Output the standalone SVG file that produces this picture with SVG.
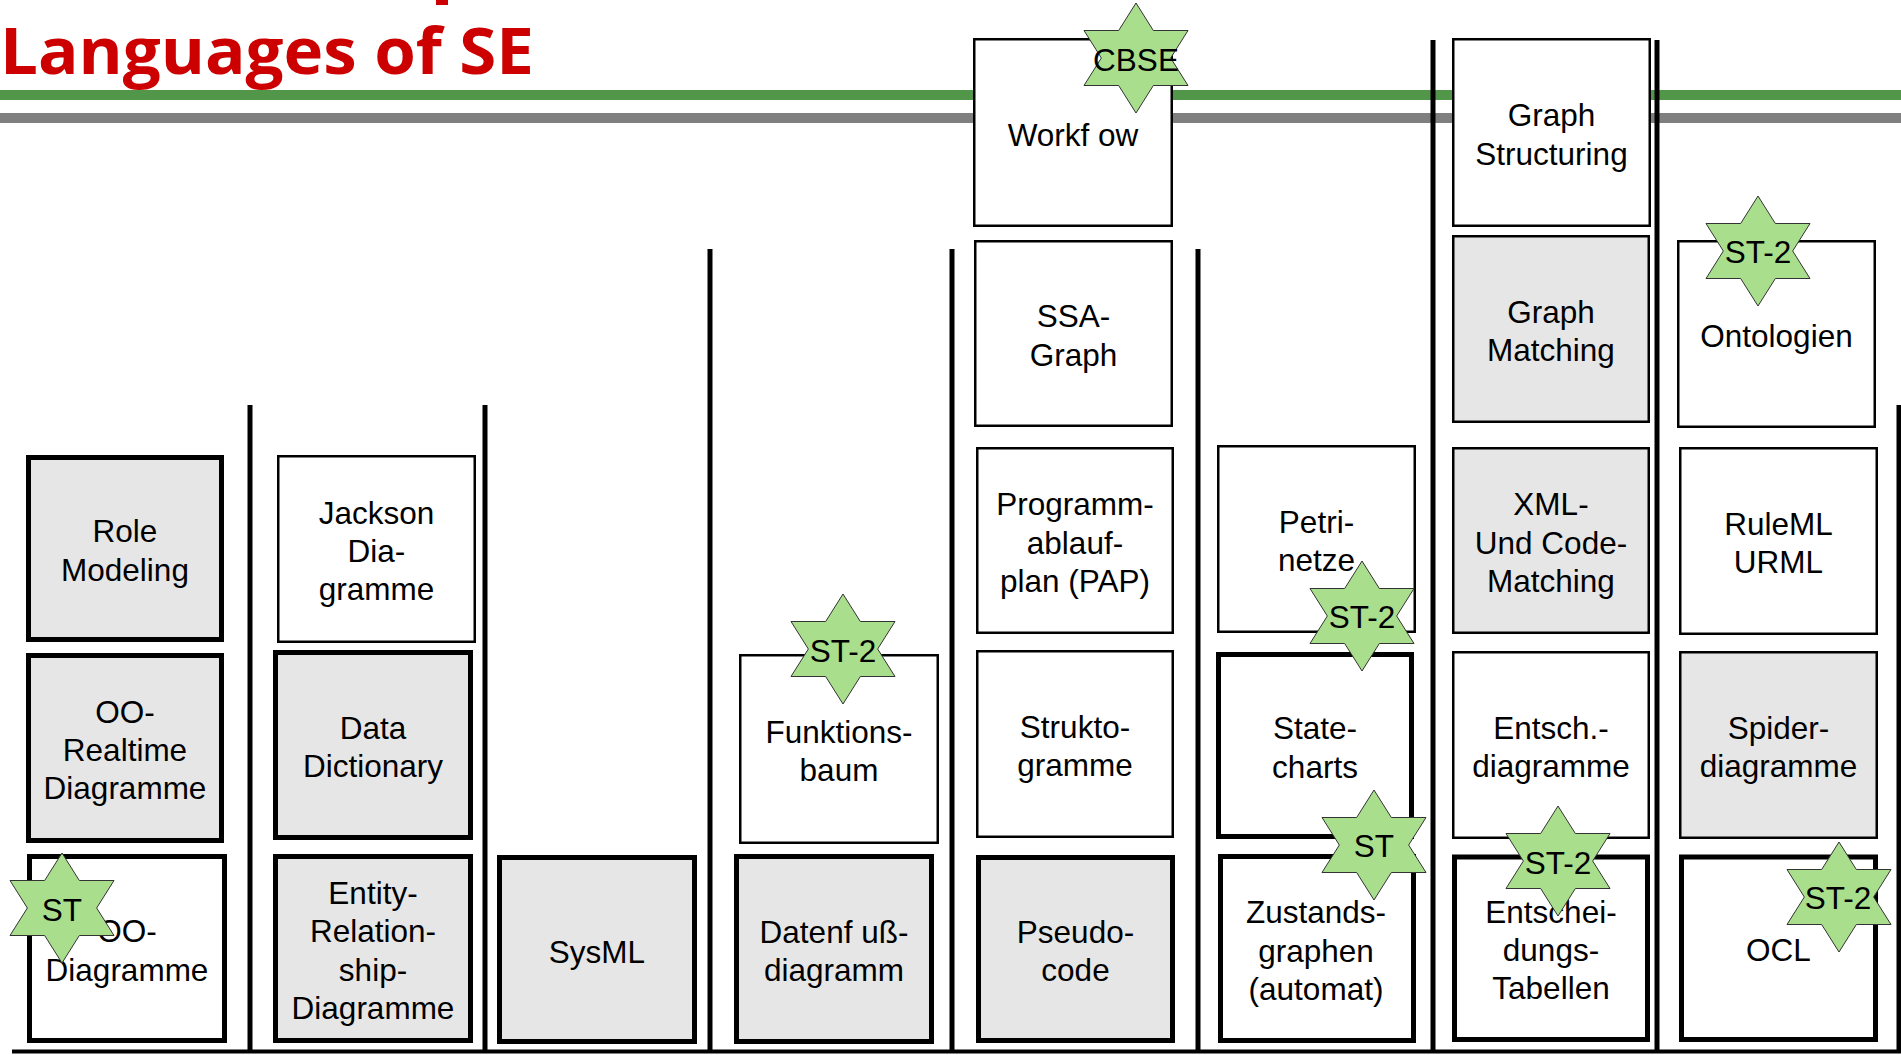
<svg xmlns="http://www.w3.org/2000/svg" xmlns:xlink="http://www.w3.org/1999/xlink" width="1901" height="1055" viewBox="0 0 1901 1055">
  <style>
    .box { stroke: #000; }
    .thick { stroke-width: 5; }
    .thin { stroke-width: 2.5; }
    .gray { fill: #e6e6e6; }
    .white { fill: #fff; }
    .lbl { font-family: "Liberation Sans", Arial, sans-serif; font-size: 31.5px; text-anchor: middle; fill: #000; }
    .star { fill: #a9df8c; stroke: #333; stroke-width: 1; }
    .sep { stroke: #000; stroke-width: 5; fill: none; }
  </style>
  <defs>
    <!-- six-pointed star, 104 x 110, centred on the origin -->
    <path id="star6" d="M-52,-27.5 L-17.33,-27.5 L0,-55 L17.33,-27.5 L52,-27.5 L34.67,0 L52,27.5 L17.33,27.5 L0,55 L-17.33,27.5 L-52,27.5 L-34.67,0 Z"/>
  </defs>

  <rect width="1901" height="1055" fill="#fff"/>

  <!-- title and header rules -->
  <g id="header">
    <rect x="436" y="0" width="12" height="5" fill="#cc0000"/>
    <text x="0" y="74" font-family="'Open Sans', 'Noto Sans', sans-serif" font-weight="bold" font-size="64" fill="#cc0000" textLength="534" lengthAdjust="spacingAndGlyphs">Languages of SE</text>
    <rect x="0" y="90" width="1901" height="10" fill="#52964a"/>
    <rect x="0" y="113" width="1901" height="10" fill="#7f7f7f"/>
  </g>

  <!-- column separators and base line -->
  <g id="connectors">
    <line class="sep" x1="250" y1="405" x2="250" y2="1053"/>
    <line class="sep" x1="485" y1="405" x2="485" y2="1053"/>
    <line class="sep" x1="710" y1="249" x2="710" y2="1053"/>
    <line class="sep" x1="952" y1="249" x2="952" y2="1053"/>
    <line class="sep" x1="1198" y1="249" x2="1198" y2="1053"/>
    <line class="sep" x1="1433" y1="40" x2="1433" y2="1053"/>
    <line class="sep" x1="1657" y1="40" x2="1657" y2="1053"/>
    <line class="sep" x1="1899" y1="405" x2="1899" y2="1053"/>
    <line x1="12" y1="1051.5" x2="1901" y2="1051.5" stroke="#000" stroke-width="4"/>
  </g>

  <!-- column 1 -->
  <g id="role-modeling">
    <rect class="box thick gray" x="28.5" y="457.5" width="193" height="182"/>
    <text class="lbl" x="125" y="542.3">Role<tspan x="125" dy="38.3">Modeling</tspan></text>
  </g>
  <g id="oo-realtime">
    <rect class="box thick gray" x="28.5" y="655.5" width="193" height="185"/>
    <text class="lbl" x="125" y="722.7">OO-<tspan x="125" dy="38.3">Realtime</tspan><tspan x="125" dy="38.3">Diagramme</tspan></text>
  </g>
  <g id="oo-diagramme">
    <rect class="box thick white" x="29.5" y="856.5" width="195" height="184"/>
    <text class="lbl" x="127" y="942.3">OO-<tspan x="127" dy="38.3">Diagramme</tspan></text>
  </g>

  <!-- column 2 -->
  <g id="jackson">
    <rect class="box thin white" x="278.25" y="456.25" width="196.5" height="185.5"/>
    <text class="lbl" x="376.5" y="523.7">Jackson<tspan x="376.5" dy="38.3">Dia-</tspan><tspan x="376.5" dy="38.3">gramme</tspan></text>
  </g>
  <g id="data-dictionary">
    <rect class="box thick gray" x="275.5" y="652.5" width="195" height="185"/>
    <text class="lbl" x="373" y="738.8">Data<tspan x="373" dy="38.3">Dictionary</tspan></text>
  </g>
  <g id="erd">
    <rect class="box thick gray" x="275.5" y="856.5" width="195" height="184"/>
    <text class="lbl" x="373" y="904">Entity-<tspan x="373" dy="38.3">Relation-</tspan><tspan x="373" dy="38.3">ship-</tspan><tspan x="373" dy="38.3">Diagramme</tspan></text>
  </g>

  <!-- column 3 -->
  <g id="sysml">
    <rect class="box thick gray" x="499.5" y="857.5" width="195" height="184"/>
    <text class="lbl" x="597" y="962.5">SysML</text>
  </g>

  <!-- column 4 -->
  <g id="funktionsbaum">
    <rect class="box thin white" x="740.25" y="655.25" width="197.5" height="187.5"/>
    <text class="lbl" x="839" y="742.8">Funktions-<tspan x="839" dy="38.3">baum</tspan></text>
  </g>
  <g id="datenfluss">
    <rect class="box thick gray" x="736.5" y="856.5" width="195" height="185"/>
    <text class="lbl" x="834" y="942.8">Datenf uß-<tspan x="834" dy="38.3">diagramm</tspan></text>
  </g>

  <!-- column 5 -->
  <g id="workflow">
    <rect class="box thin white" x="974.25" y="39.25" width="197.5" height="186.5"/>
    <text class="lbl" x="1073" y="145.5">Workf ow</text>
  </g>
  <g id="ssa-graph">
    <rect class="box thin white" x="975.25" y="241.25" width="196.5" height="184.5"/>
    <text class="lbl" x="1073.5" y="327.3">SSA-<tspan x="1073.5" dy="38.3">Graph</tspan></text>
  </g>
  <g id="pap">
    <rect class="box thin white" x="977.25" y="448.25" width="195.5" height="184.5"/>
    <text class="lbl" x="1075" y="515.2">Programm-<tspan x="1075" dy="38.3">ablauf-</tspan><tspan x="1075" dy="38.3">plan (PAP)</tspan></text>
  </g>
  <g id="struktogramme">
    <rect class="box thin white" x="977.25" y="651.25" width="195.5" height="185.5"/>
    <text class="lbl" x="1075" y="737.8">Strukto-<tspan x="1075" dy="38.3">gramme</tspan></text>
  </g>
  <g id="pseudocode">
    <rect class="box thick gray" x="978.5" y="857.5" width="194" height="183"/>
    <text class="lbl" x="1075.5" y="942.8">Pseudo-<tspan x="1075.5" dy="38.3">code</tspan></text>
  </g>

  <!-- column 6 -->
  <g id="petrinetze">
    <rect class="box thin white" x="1218.25" y="446.25" width="196.5" height="185.5"/>
    <text class="lbl" x="1316.5" y="532.8">Petri-<tspan x="1316.5" dy="38.3">netze</tspan></text>
  </g>
  <g id="statecharts">
    <rect class="box thick white" x="1218.5" y="654.5" width="193" height="182"/>
    <text class="lbl" x="1315" y="739.3">State-<tspan x="1315" dy="38.3">charts</tspan></text>
  </g>
  <g id="zustandsgraphen">
    <rect class="box thick white" x="1220.5" y="856.5" width="193" height="184"/>
    <text class="lbl" x="1316" y="923.2">Zustands-<tspan x="1316" dy="38.3">graphen</tspan><tspan x="1316" dy="38.3">(automat)</tspan></text>
  </g>

  <!-- column 7 -->
  <g id="graph-structuring">
    <rect class="box thin white" x="1453.25" y="39.25" width="196.5" height="186.5"/>
    <text class="lbl" x="1551.5" y="126.3">Graph<tspan x="1551.5" dy="38.3">Structuring</tspan></text>
  </g>
  <g id="graph-matching">
    <rect class="box thin gray" x="1453.25" y="236.25" width="195.5" height="185.5"/>
    <text class="lbl" x="1551" y="322.8">Graph<tspan x="1551" dy="38.3">Matching</tspan></text>
  </g>
  <g id="xml-code-matching">
    <rect class="box thin gray" x="1453.25" y="448.25" width="195.5" height="184.5"/>
    <text class="lbl" x="1551" y="515.2">XML-<tspan x="1551" dy="38.3">Und Code-</tspan><tspan x="1551" dy="38.3">Matching</tspan></text>
  </g>
  <g id="entsch-diagramme">
    <rect class="box thin white" x="1453.25" y="652.25" width="195.5" height="185.5"/>
    <text class="lbl" x="1551" y="738.8">Entsch.-<tspan x="1551" dy="38.3">diagramme</tspan></text>
  </g>
  <g id="entscheidungstabellen">
    <rect class="box thick white" x="1454.5" y="857" width="193" height="182.5"/>
    <text class="lbl" x="1551" y="922.7">Entschei-<tspan x="1551" dy="38.3">dungs-</tspan><tspan x="1551" dy="38.3">Tabellen</tspan></text>
  </g>

  <!-- column 8 -->
  <g id="ontologien">
    <rect class="box thin white" x="1678.25" y="241.25" width="196.5" height="185.5"/>
    <text class="lbl" x="1776.5" y="347">Ontologien</text>
  </g>
  <g id="ruleml">
    <rect class="box thin white" x="1680.25" y="448.25" width="196.5" height="185.5"/>
    <text class="lbl" x="1778.5" y="534.8">RuleML<tspan x="1778.5" dy="38.3">URML</tspan></text>
  </g>
  <g id="spiderdiagramme">
    <rect class="box thin gray" x="1680.25" y="652.25" width="196.5" height="185.5"/>
    <text class="lbl" x="1778.5" y="738.8">Spider-<tspan x="1778.5" dy="38.3">diagramme</tspan></text>
  </g>
  <g id="ocl">
    <rect class="box thick white" x="1681.5" y="857" width="194" height="182.5"/>
    <text class="lbl" x="1778.5" y="961">OCL</text>
  </g>

  <!-- star badges -->
  <g id="star-cbse">
    <use xlink:href="#star6" class="star" x="1136" y="58"/>
    <text class="lbl" x="1136" y="71">CBSE</text>
  </g>
  <g id="star-funktionsbaum">
    <use xlink:href="#star6" class="star" x="843" y="649"/>
    <text class="lbl" x="843" y="662">ST-2</text>
  </g>
  <g id="star-ontologien">
    <use xlink:href="#star6" class="star" x="1758" y="251"/>
    <text class="lbl" x="1758" y="263">ST-2</text>
  </g>
  <g id="star-petrinetze">
    <use xlink:href="#star6" class="star" x="1362" y="616"/>
    <text class="lbl" x="1362" y="628">ST-2</text>
  </g>
  <g id="star-statecharts">
    <use xlink:href="#star6" class="star" x="1374" y="845"/>
    <text class="lbl" x="1374" y="857">ST</text>
  </g>
  <g id="star-entsch">
    <use xlink:href="#star6" class="star" x="1558" y="861"/>
    <text class="lbl" x="1558" y="874">ST-2</text>
  </g>
  <g id="star-ocl">
    <use xlink:href="#star6" class="star" x="1839" y="897"/>
    <text class="lbl" x="1838" y="909">ST-2</text>
  </g>
  <g id="star-oo">
    <use xlink:href="#star6" class="star" x="62" y="908"/>
    <text class="lbl" x="62" y="921">ST</text>
  </g>
</svg>
